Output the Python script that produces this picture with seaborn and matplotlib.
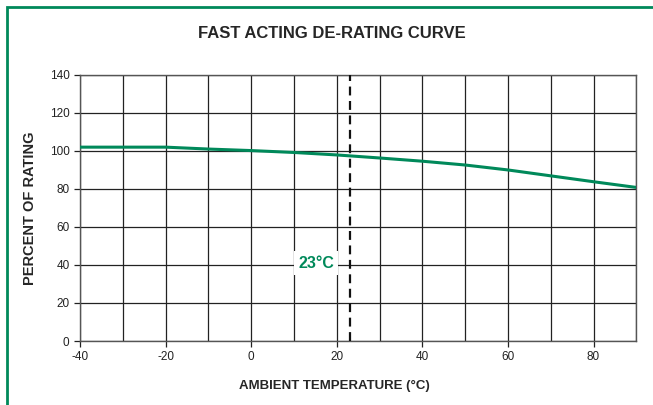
#!/usr/bin/env python3

import numpy as np
import pandas as pd
import matplotlib
matplotlib.use('Agg')
from matplotlib import pyplot as plt
from matplotlib.patches import Rectangle
import seaborn as sns

# de-rating curve
temps = [-40, -30, -20, -10, 0, 10, 20, 30, 40, 50, 60, 70, 80, 90]
rating = [102, 102, 102, 101, 100.2, 99.2, 97.9, 96.3, 94.6, 92.6, 90.0, 86.9, 83.8, 80.8]
marker_temp = 23
marker_label = '23°C'

green = '#00895a'

df = pd.DataFrame({'temp': temps, 'rating': rating})

sns.set_style("white")
plt.rcParams['font.family'] = ['Liberation Sans', 'DejaVu Sans']
plt.rcParams['axes.unicode_minus'] = False

fig = plt.figure(figsize=(6.53, 4.05), dpi=100)
ax = fig.add_axes([0.1225, 0.158, 0.852, 0.657])

sns.lineplot(data=df, x='temp', y='rating', ax=ax, color=green, linewidth=2.2, zorder=4)

ax.set_xlim(-40, 90)
ax.set_ylim(0, 140)
ax.set_xticks(np.arange(-40, 91, 20))
ax.set_xticks(np.arange(-40, 91, 10), minor=True)
ax.set_yticks(np.arange(0, 141, 20))
ax.grid(True, which='both', axis='x', color='#222222', linewidth=0.9)
ax.grid(True, which='major', axis='y', color='#222222', linewidth=0.9)
ax.tick_params(axis='both', which='major', labelsize=8.5, length=4, width=0.9,
               color='#222222', labelcolor='#222222', direction='out', bottom=True, left=True)
ax.tick_params(axis='x', which='minor', length=0)
for s in ax.spines.values():
    s.set_color('#555555')
    s.set_linewidth(1.0)

# dashed reference line with label
ax.axvline(marker_temp, color='#111111', linestyle=(0, (4, 2.5)), linewidth=1.6, zorder=5)
ax.text(19.4, 41, marker_label, color=green, fontsize=11.5, fontweight='bold',
        ha='right', va='center', zorder=6,
        bbox=dict(facecolor='white', edgecolor='none', pad=3))

ax.set_xlabel('AMBIENT TEMPERATURE (°C)', fontsize=9.5, fontweight='bold', labelpad=12)
ax.xaxis.set_label_coords(0.457, -0.145)
ax.set_ylabel('PERCENT OF RATING', fontsize=10.5, fontweight='bold', labelpad=9)
fig.suptitle('FAST ACTING DE-RATING CURVE', fontsize=12, fontweight='bold', x=0.508, y=0.937)

# green frame around the figure
fig.patches.append(Rectangle((0.011, -0.2), 1.2, 1.183, transform=fig.transFigure,
                             fill=False, edgecolor=green, linewidth=2))

plt.savefig('out.png', dpi=100)
